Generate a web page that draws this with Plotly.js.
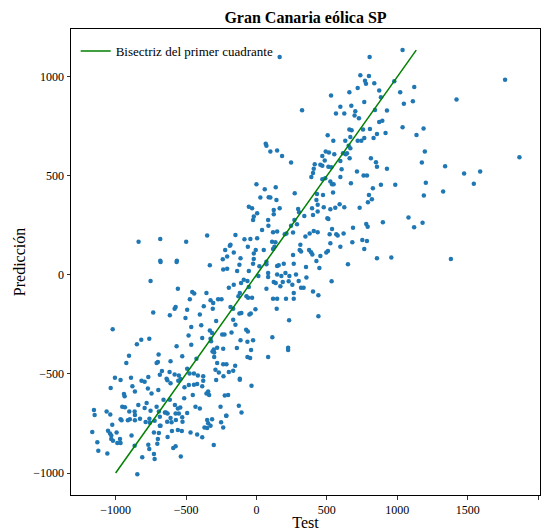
<!DOCTYPE html>
<html><head><meta charset="utf-8">
<script src="https://cdn.plot.ly/plotly-3.0.1.min.js"></script>
<style>html,body{margin:0;padding:0;background:#fff}#chart{width:549px;height:531px}</style>
</head><body><div id="chart"></div>
<script>
const testVals = [
165,804,738,799,771,778,837,719,872,660,530,884,766,324,596,674,702,842,927,565,624,697,728,872,894,660,676,757,806,917,856,506,667,766,832,546,631,719,745,66,
1038,979,1121,1021,1111,1047,1766,1421,1038,1187,1137,
-837,-683,-499,-350,-189,-222,-208,-239,-683,-565,
71,99,147,182,246,492,515,468,553,485,414,407,454,468,511,532,402,390,468,489,525,537,548,596,605,596,634,662,615,643,667,655,813,849,856,927,714,761,785,671,827,884,799,820,792,733,
0,59,87,99,137,142,28,272,-54,-31,5,-19,-24,123,165,123,83,85,296,303,340,395,435,402,435,478,525,560,591,624,504,511,430,426,473,544,270,246,288,260,118,147,213,201,
-149,-85,-43,5,40,111,135,348,378,435,407,520,537,567,577,619,686,780,790,898,312,307,317,374,388,397,454,496,508,525,596,681,752,785,766,-184,-161,-61,-19,-5,52,118,128,260,-113,-19,71,426,856,
1196,1175,1340,1475,1589,1868,986,1203,1189,1326,1544,1080,1120,1180,958,1381,
-681,-567,-331,-236,-208,-196,-752,-558,-456,-442,-355,-473,-326,-307,-272,-248,-374,-310,-574,-581,-492,-733,-615,-402,-504,-286,-463,-392,-331,-315,-243,-227,-1021,-482,-326,-385,-322,-761,-818,-849,-463,-567,-279,-303,-236,-300,-312,-695,-905,-527,-426,-300,-610,-700,-709,-924,-279,-236,-213,-492,-671,-617,-686,-581,-551,-475,-444,-416,-378,-291,-267,-234,-196,-1005,-891,-768,-638,
-121,-24,21,71,147,158,194,265,352,447,650,-137,-54,14,83,83,147,177,206,234,281,355,-161,-109,-90,-64,-54,123,137,170,187,229,255,300,317,335,534,71,-118,-128,-71,-59,-31,265,265,118,147,210,402,440,-184,-165,-121,-107,-50,-40,-7,144,-165,-149,232,440,-177,-73,-61,113,-113,-64,-24,-139,-38,225,225,-64,-45,83,-151,-165,-118,
-1035,-941,-936,-881,-863,-816,-794,-771,-745,-697,-633,-610,-555,-539,-511,-480,-444,-421,-385,-378,-355,-343,-336,-286,-225,-201,-965,
-1154,-1149,-1064,-1038,-953,-934,-903,-865,-863,-839,-794,-780,-752,-709,-693,-650,-631,-660,-615,-579,-558,-551,-541,-513,-452,-433,-402,-255,-215,
-1024,-1054,-1040,-1031,-993,-965,-958,-913,-899,-863,-827,-787,-760,-757,-723,-686,-686,-643,-610,-572,-574,-527,-525,-603,-634,-492,-350,-343,-315,-369,-326,-251,-236,-213,
-1166,-1130,-1123,-1059,-1031,-1019,-988,-969,-965,-887,-865,-811,-846,-768,-761,-728,-723,-704,-700,-693,-681,-728,-631,-600,-591,-574,-558,-530,-537,-468,-421,-385,-350,-303,
-118,-35,-125,-106
];
const predVals = [
1100,1100,1009,1005,981,965,968,944,931,923,906,898,874,832,850,854,827,833,830,815,815,805,791,773,779,734,731,734,737,717,712,705,697,692,692,678,678,678,678,662,
1136,978,949,923,877,864,986,886,746,739,707,
168,182,168,199,148,126,93,79,72,72,
652,623,628,601,568,623,618,601,610,578,559,536,556,551,547,544,515,495,483,488,472,458,458,576,534,495,610,589,615,615,640,652,589,569,547,536,522,502,502,463,438,455,404,382,367,340,
458,433,392,391,443,379,391,413,345,337,312,295,278,328,337,306,278,248,333,317,298,337,354,303,320,342,332,340,357,342,286,283,409,379,404,416,278,249,256,214,216,219,210,205,
202,180,182,185,227,168,165,194,210,216,222,205,232,205,199,210,239,258,244,266,152,126,118,126,115,104,96,113,121,160,143,165,177,172,131,152,113,143,109,126,126,131,143,101,84,81,67,71,84,
623,568,549,512,522,594,455,466,401,421,460,290,241,264,88,81,
66,66,49,27,32,-64,-30,-69,-86,-94,-91,-123,-128,-141,-123,-123,-158,-170,-162,-170,-175,-190,-204,-200,-217,-232,-263,-254,-280,-293,-300,-300,-274,-305,-322,-318,-335,-322,-327,-350,-352,-360,-367,-376,-372,-392,-386,-402,-408,-411,-423,-414,-436,-440,-445,-445,-445,-451,-451,-473,-485,-490,-504,-502,-507,-498,-498,-507,-512,-478,-493,-512,-490,-519,-519,-515,-524,
52,57,44,54,45,49,57,57,40,35,54,20,20,-5,10,-10,2,-5,10,-5,3,-13,-49,-40,-24,-30,-61,-35,-40,-57,-35,-32,-49,-30,-64,-64,-32,-69,-91,-108,-108,-115,-115,-91,-120,-120,-120,-120,-83,-103,-162,-170,-195,-192,-199,-195,-173,-170,-226,-251,-229,-209,-291,-276,-285,-315,-330,-337,-330,-369,-379,-367,-379,-414,-419,-414,-458,-483,-524,
-571,-601,-613,-562,-589,-534,-539,-573,-598,-581,-531,-547,-534,-525,-567,-556,-554,-551,-562,-534,-598,-589,-606,-530,-609,-606,-530,
-682,-707,-690,-705,-665,-668,-690,-689,-707,-657,-672,-647,-685,-665,-689,-694,-699,-630,-630,-657,-674,-699,-669,-623,-606,-665,-674,-665,-711,
-756,-786,-800,-811,-795,-729,-734,-734,-729,-734,-726,-743,-726,-746,-736,-716,-761,-694,-722,-732,-699,-719,-741,-744,-741,-697,-732,-749,-729,-770,-761,-744,-770,-711,
-793,-845,-888,-901,-828,-837,-849,-828,-849,-811,-862,-921,-1006,-857,-879,-904,-929,-852,-828,-798,-761,-795,-818,-788,-874,-865,-783,-788,-916,-796,-805,-820,-773,-859,
-529,-559,-660,-694
];
const lineX = [-1000, 1135];
const lineY = [-1000, 1135];
const lineName = 'Bisectriz del primer cuadrante';
const titleText = 'Gran Canaria eólica SP';
const xTitle = 'Test';
const yTitle = 'Predicción';
const xTicks = [-1000, -500, 0, 500, 1000, 1500, 2000];
const yTicks = [-1000, -500, 0, 500, 1000];

const serif = 'Liberation Serif, Times New Roman, serif';
const data = [
  {x: testVals, y: predVals, type: 'scatter', mode: 'markers', showlegend: false,
   marker: {color: '#1f77b4', size: 4.5, line: {width: 0}}},
  {x: lineX, y: lineY, type: 'scatter', mode: 'lines', name: lineName,
   line: {color: 'green', width: 1.5}}
];
const axisCommon = {
  showline: true, linecolor: '#000', linewidth: 1, mirror: true,
  ticks: 'outside', ticklen: 3.5, tickwidth: 0.8, tickcolor: '#000',
  showgrid: false, zeroline: false,
  tickfont: {family: serif, size: 12, color: '#000'}
};
const layout = {
  width: 549, height: 531,
  margin: {l: 71, r: 9, t: 29, b: 36},
  paper_bgcolor: '#fff', plot_bgcolor: '#fff',
  title: {text: '<b>' + titleText + '</b>', font: {family: serif, size: 16, color: '#000'},
          x: 0.5, xref: 'paper', y: 0.967, yanchor: 'middle'},
  xaxis: Object.assign({}, axisCommon, {range: [-1317, 2014], tickvals: xTicks,
          title: {text: xTitle, font: {family: serif, size: 16, color: '#000'}, standoff: 4}}),
  yaxis: Object.assign({}, axisCommon, {range: [-1111, 1242], tickvals: yTicks,
          title: {text: yTitle, font: {family: serif, size: 16, color: '#000'}, standoff: 3}}),
  legend: {x: 0.01, y: 0.985, xanchor: 'left', yanchor: 'top', bgcolor: 'rgba(255,255,255,0)',
           font: {family: serif, size: 13, color: '#000'}},
  showlegend: true
};
Plotly.newPlot('chart', data, layout, {displayModeBar: false, staticPlot: true});
</script></body></html>
